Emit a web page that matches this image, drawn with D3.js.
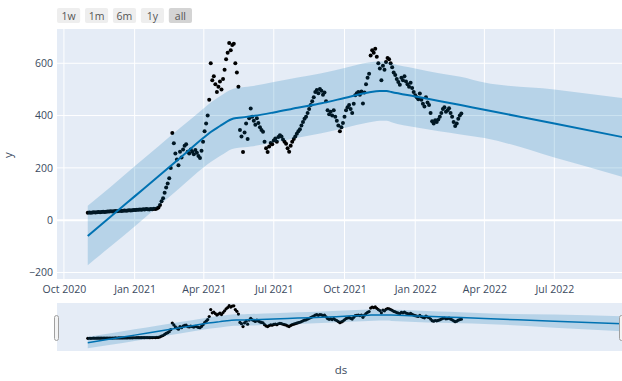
<!DOCTYPE html>
<html>
<head>
<meta charset="utf-8">
<script src="https://cdn.jsdelivr.net/npm/d3@7"></script>
<style>
  html, body { margin: 0; padding: 0; background: #fff; }
  svg { display: block; font-family: "Open Sans", "DejaVu Sans", sans-serif; }
</style>
</head>
<body>
<svg id="chart" width="622" height="381"></svg>
<script>
// Observed series: one reading every two days starting on actualStart
const actualStart = "2020-11-01";
const actualStepDays = 2;
const actualY = [
  // Nov 2020
  28,29,28,29,30,29,30,31,30,31,32,31,32,33,33,
  // Dec 2020
  34,33,34,35,34,35,36,35,36,37,36,37,38,37,38,39,
  // Jan 2021
  39,40,40,41,40,42,41,43,42,41,43,42,44,43,45,
  // Feb 2021
  48,58,72,84,105,125,140,160,199,333,294,255,232,210,
  // Mar 2021
  262,240,270,285,290,262,255,270,262,252,268,258,245,238,265,300,
  // Apr 2021
  340,370,400,460,600,535,550,520,490,510,530,500,540,575,615,
  // May 2021
  640,677,650,670,675,600,565,510,345,320,261,335,370,310,390,
  // Jun 2021
  427,395,380,365,390,372,355,345,338,300,275,261,282,295,290,
  // Jul 2021
  305,312,300,318,325,320,308,300,292,275,262,285,300,310,320,330,
  // Aug 2021
  340,348,362,375,388,395,410,425,440,455,470,490,498,485,502,
  // Sep 2021
  495,480,488,455,420,405,415,400,420,395,380,362,340,355,372,
  // Oct 2021
  395,420,432,440,425,410,445,478,485,490,480,492,446,488,520,545,
  // Nov 2021
  560,630,650,640,655,625,600,580,535,590,575,605,620,615,600,
  // Dec 2021
  585,565,555,540,528,518,545,535,550,530,520,510,525,505,490,
  // Jan 2022
  478,470,462,484,460,445,435,470,450,440,410,378,370,382,375,385,
  // Feb 2022
  395,410,425,432,415,420,428,410,395,375,360,370,388,400,
  // Mar 2022
  408
];

// Model forecast: trend and uncertainty interval
const fcDates = [
  "2020-11-01","2020-12-01","2021-01-01","2021-02-01","2021-03-01","2021-04-01",
  "2021-04-10","2021-04-22","2021-05-01","2021-05-07","2021-05-14","2021-05-24",
  "2021-06-01","2021-07-01","2021-08-01","2021-09-01","2021-10-01","2021-11-01",
  "2021-11-16","2021-11-25","2021-12-01","2022-01-01","2022-02-01","2022-03-01",
  "2022-04-01","2022-07-01","2022-09-27"
];
const fcYhat  = [-61, 14, 91,168,238,316,337,360,377,386,391,394,397,412,430,447,467,488,494,494,490,473,456,440,422,370,318];
const fcLower = [-172,-100,-24, 54,124,202,222,245,262,271,276,279,282,297,315,332,352,373,380,380,374,355,340,328,314,240,166];
const fcUpper = [ 55,128,206,283,352,428,450,474,491,500,505,509,512,528,546,562,582,603,607,606,600,580,562,548,526,500,467];

const yTicks = [-200, 0, 200, 400, 600];
const xTickDates = ["2020-10-01","2021-01-01","2021-04-01","2021-07-01","2021-10-01",
                    "2022-01-01","2022-04-01","2022-07-01"];
const rangeButtons = ["1w", "1m", "6m", "1y", "all"];
const activeButton = "all";

// ---- layout ----
const plot = { left: 57, right: 622, top: 29, bottom: 279 };
const slider = { top: 303, bottom: 351 };
const colors = {
  bg: "#E5ECF6", grid: "#ffffff", band: "rgba(0,114,178,0.2)",
  line: "#0072B2", dot: "#000000", text: "#3b4a60"
};

const parse = d3.utcParse("%Y-%m-%d");
const start = parse(actualStart);
const actual = actualY.map((v, i) => ({ date: d3.utcDay.offset(start, i * actualStepDays), y: v }));
const forecast = fcDates.map((d, i) => ({ date: parse(d), yhat: fcYhat[i], lo: fcLower[i], hi: fcUpper[i] }));

const x = d3.scaleUtc()
  .domain([parse("2020-09-22"), parse("2022-09-27")])
  .range([plot.left, plot.right]);
const y = d3.scaleLinear().domain([-225, 731]).range([plot.bottom, plot.top]);
const ySl = d3.scaleLinear().domain([-225, 731]).range([slider.bottom, slider.top]);

const svg = d3.select("#chart");
const defs = svg.append("defs");
defs.append("clipPath").attr("id", "clipMain")
  .append("rect").attr("x", plot.left).attr("y", plot.top)
  .attr("width", plot.right - plot.left).attr("height", plot.bottom - plot.top);
defs.append("clipPath").attr("id", "clipSlider")
  .append("rect").attr("x", plot.left).attr("y", slider.top)
  .attr("width", plot.right - plot.left).attr("height", slider.bottom - slider.top);

// ---- main plot ----
svg.append("rect")
  .attr("x", plot.left).attr("y", plot.top)
  .attr("width", plot.right - plot.left).attr("height", plot.bottom - plot.top)
  .attr("fill", colors.bg);

const grid = svg.append("g");
grid.selectAll("line.v").data(xTickDates.map(parse)).join("line")
  .attr("class", "v")
  .attr("x1", d => x(d)).attr("x2", d => x(d))
  .attr("y1", plot.top).attr("y2", plot.bottom)
  .attr("stroke", colors.grid).attr("stroke-width", 1);
grid.selectAll("line.h").data(yTicks).join("line")
  .attr("class", "h")
  .attr("x1", plot.left).attr("x2", plot.right)
  .attr("y1", d => y(d)).attr("y2", d => y(d))
  .attr("stroke", colors.grid).attr("stroke-width", d => d === 0 ? 2 : 1);

const main = svg.append("g").attr("clip-path", "url(#clipMain)");

main.append("g").selectAll("circle").data(actual).join("circle")
  .attr("cx", d => x(d.date)).attr("cy", d => y(d.y)).attr("r", 2)
  .attr("fill", colors.dot);

const band = d3.area().x(d => x(d.date)).y0(d => y(d.lo)).y1(d => y(d.hi))
  .curve(d3.curveMonotoneX);
main.append("path").datum(forecast).attr("d", band).attr("fill", colors.band);

const trend = d3.line().x(d => x(d.date)).y(d => y(d.yhat)).curve(d3.curveMonotoneX);
main.append("path").datum(forecast).attr("d", trend)
  .attr("fill", "none").attr("stroke", colors.line).attr("stroke-width", 2);

// axes
const xAxis = d3.axisBottom(x)
  .tickValues(xTickDates.map(parse))
  .tickFormat(d3.utcFormat("%b %Y"))
  .tickSize(0).tickPadding(7);
const gx = svg.append("g").attr("transform", `translate(0,${plot.bottom})`).call(xAxis);
gx.select(".domain").remove();
gx.selectAll("text").attr("fill", colors.text).attr("font-size", 10.5)
  .attr("font-family", "\"Open Sans\", sans-serif");

const yAxis = d3.axisLeft(y).tickValues(yTicks).tickSize(0).tickPadding(4);
const gy = svg.append("g").attr("transform", `translate(${plot.left},0)`).call(yAxis);
gy.select(".domain").remove();
gy.selectAll("text").attr("fill", colors.text).attr("font-size", 10.5)
  .attr("font-family", "\"Open Sans\", sans-serif");

svg.append("text")
  .attr("transform", `translate(12,${(plot.top + plot.bottom) / 2 + 1}) rotate(-90)`)
  .attr("text-anchor", "middle").attr("fill", colors.text).attr("font-size", 11.5)
  .text("y");
svg.append("text")
  .attr("x", 341).attr("y", 374)
  .attr("text-anchor", "middle").attr("fill", colors.text).attr("font-size", 11.5)
  .text("ds");

// ---- range selector buttons ----
const btnX = d3.scaleBand().domain(rangeButtons).range([57, 192]).paddingInner(0.17);
const btns = svg.append("g").selectAll("g").data(rangeButtons).join("g")
  .attr("transform", d => `translate(${btnX(d)},8)`);
btns.append("rect")
  .attr("width", btnX.bandwidth()).attr("height", 15).attr("rx", 2)
  .attr("fill", d => d === activeButton ? "#d4d4d4" : "#eeeeee");
btns.append("text")
  .attr("x", btnX.bandwidth() / 2).attr("y", 11.5)
  .attr("text-anchor", "middle").attr("font-size", 10.5).attr("fill", "#555")
  .text(d => d);

// ---- range slider ----
svg.append("rect")
  .attr("x", plot.left).attr("y", slider.top)
  .attr("width", plot.right - plot.left).attr("height", slider.bottom - slider.top)
  .attr("fill", colors.bg);
const sl = svg.append("g").attr("clip-path", "url(#clipSlider)");
sl.append("g").selectAll("circle").data(actual).join("circle")
  .attr("cx", d => x(d.date)).attr("cy", d => ySl(d.y)).attr("r", 1.6)
  .attr("fill", colors.dot);
sl.append("path").datum(forecast)
  .attr("d", d3.area().x(d => x(d.date)).y0(d => ySl(d.lo)).y1(d => ySl(d.hi)).curve(d3.curveMonotoneX))
  .attr("fill", colors.band);
sl.append("path").datum(forecast)
  .attr("d", d3.line().x(d => x(d.date)).y(d => ySl(d.yhat)).curve(d3.curveMonotoneX))
  .attr("fill", "none").attr("stroke", colors.line).attr("stroke-width", 1.5);

// slider grab handles
[plot.left - 2, plot.right - 2].forEach(hx => {
  svg.append("rect")
    .attr("x", hx - 0.5).attr("y", 315.5).attr("width", 4).attr("height", 25).attr("rx", 2)
    .attr("fill", "#f4f4f4").attr("stroke", "#a0a0a0").attr("stroke-width", 1);
});
</script>
</body>
</html>
